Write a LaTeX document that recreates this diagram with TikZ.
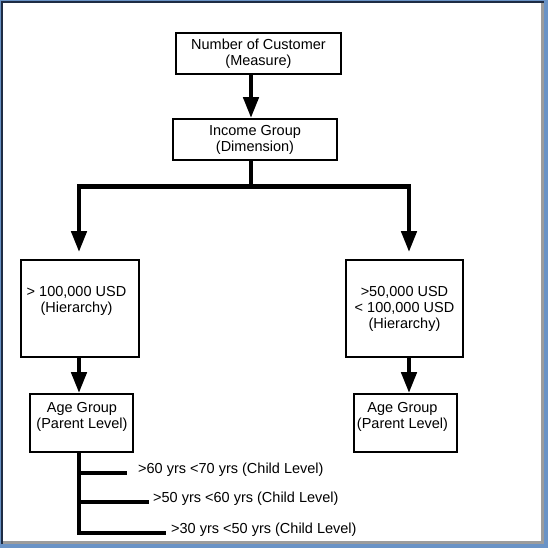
\documentclass[tikz,border=0pt]{standalone}
\usepackage{fontspec}
\setmainfont{Liberation Sans}
\usetikzlibrary{arrows.meta}
\definecolor{frameblue}{HTML}{6A93C6}
\definecolor{framedark}{HTML}{1E2C44}
\definecolor{frameshadow}{HTML}{9C9C9C}
\tikzset{
  box/.style={draw, line width=1.8pt, inner sep=0pt, align=center},
  txt/.style={inner sep=0pt, align=center},
  conn/.style={line width=4.5pt, line join=miter},
  arr/.style={line width=4.5pt, line join=miter, -{Triangle[length=21pt,width=15pt]}},
  branch/.style={line width=4.5pt}
}
\begin{document}
\begin{tikzpicture}[x=1pt,y=-1pt,font=\fontsize{14.5}{16}\selectfont]
\useasboundingbox (0,0) rectangle (548,548);
% frame
\fill[frameblue] (0,0) rectangle (548,548);
\fill[framedark] (1,1) rectangle (544,544);
\fill[frameshadow] (3,3) rectangle (544,544);
\fill[white] (3,3) rectangle (541,541);

% nodes
\node[box, minimum width=165pt, minimum height=41pt] (meas) at (258.5,53.5)
  {Number of Customer\\(Measure)};
\node[box, minimum width=164pt, minimum height=41pt] (inc) at (255,139.5)
  {Income Group\\(Dimension)};
\node[box, minimum width=118pt, minimum height=97pt] (hl) at (80,308.5) {};
\node[txt] (hltxt) at (76.5,301) {> 100,000 USD\\(Hierarchy)};
\node[box, minimum width=117pt, minimum height=97pt] (hr) at (404.5,308.5)
  {>50,000 USD\\< 100,000 USD\\(Hierarchy)};
\node[box, minimum width=103pt, minimum height=58pt] (al) at (81.5,423) {};
\node[txt] (altxt) at (82,417) {Age Group\\(Parent Level)};
\node[box, minimum width=103pt, minimum height=58pt] (ar) at (405.5,423) {};
\node[txt] (artxt) at (402.5,417) {Age Group\\(Parent Level)};

% child labels
\node[inner sep=0pt, anchor=west] (c1) at (138,470) {>60 yrs <70 yrs (Child Level)};
\node[inner sep=0pt, anchor=west] (c2) at (153,499) {>50 yrs <60 yrs (Child Level)};
\node[inner sep=0pt, anchor=west] (c3) at (171,529.5) {>30 yrs <50 yrs (Child Level)};

% helper coordinates
\coordinate (ax) at (251,0);
\coordinate (lx) at (79,0);
\coordinate (rx) at (409,0);
\coordinate (hy) at (0,186.5);
\coordinate (e1) at (127,473);
\coordinate (e2) at (149,502);
\coordinate (e3) at (166,533);

% connectors
\draw[arr] (meas.south -| ax) -- (inc.north -| ax);
\draw[conn] (inc.south -| ax) -- (ax |- hy);
\draw[arr] (ax |- hy) -| ([yshift=7pt]hl.north -| lx);
\draw[arr] (ax |- hy) -| ([yshift=7pt]hr.north -| rx);
\draw[arr] (hl.south -| lx) -- (al.north -| lx);
\draw[arr] (hr.south -| rx) -- (ar.north -| rx);

% child tree
\draw[branch, line join=miter] (al.south -| lx) |- (e3);
\draw[branch] (lx |- e1) -- (e1);
\draw[branch] (lx |- e2) -- (e2);
\end{tikzpicture}
\end{document}
